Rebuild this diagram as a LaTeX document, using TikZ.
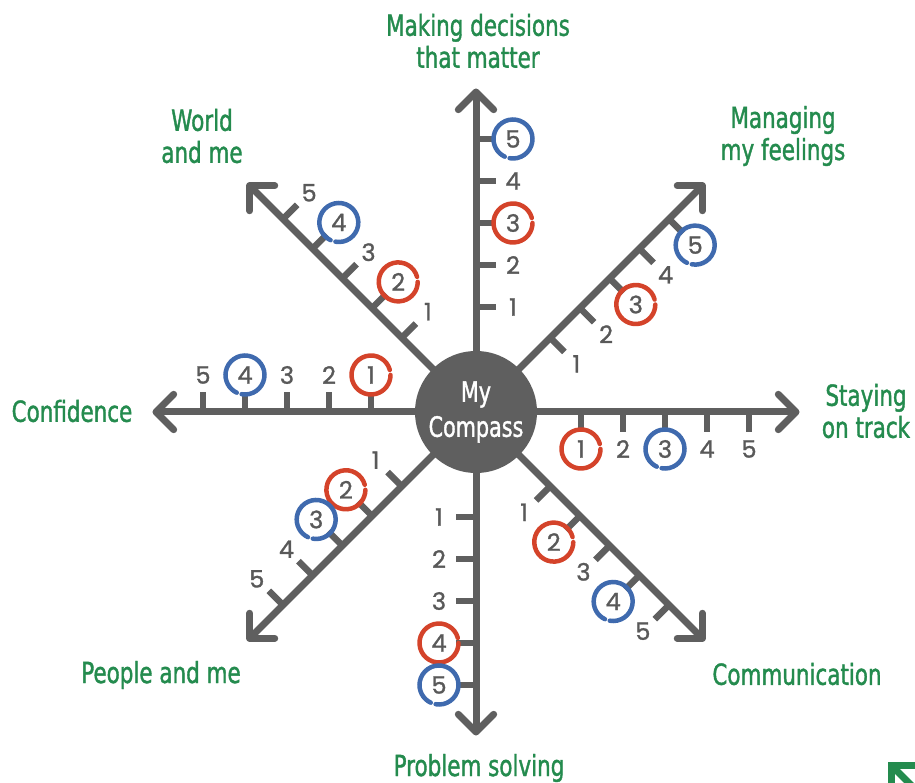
\documentclass[tikz,border=0pt]{standalone}
\usepackage{fontspec}
\usetikzlibrary{calc}
\newfontfamily\labfont[FakeStretch=0.74,FakeBold=1.3]{DejaVu Sans}
\newfontfamily\numfont[FakeBold=1.2]{Poppins}
\definecolor{axisgray}{HTML}{5F5F5F}
\definecolor{numgray}{HTML}{595959}
\definecolor{ringred}{HTML}{D4432A}
\definecolor{ringblue}{HTML}{3F6AAE}
\definecolor{labgreen}{HTML}{248B4E}
\begin{document}
\begin{tikzpicture}[x=1pt,y=1pt,
  axisline/.style={draw=axisgray,line width=7pt},
  tickmark/.style={draw=axisgray,line width=6.5pt},
  arrowhead/.style={draw=axisgray,line width=7pt,line cap=round,line join=round},
  num/.style={text=numgray,font=\numfont\fontsize{24}{24}\selectfont,inner sep=0pt},
  ring/.style={line width=4.5pt,line cap=round},
  lab/.style={text=labgreen,font=\labfont\fontsize{29}{32}\selectfont,align=center,inner sep=0pt},
  hub/.style={circle,fill=axisgray,minimum size=122pt,inner sep=0pt,text=white,
              font=\labfont\fontsize{28}{35}\selectfont,align=center}]
\useasboundingbox (-476,-371) rectangle (439,412);
\clip (-476,-371) rectangle (439,412);

% eight scales: direction / red mark / blue mark
\foreach \ang/\r/\b [count=\i] in {90/3/5, 45/3/5, 0/1/3, -45/2/4, -90/4/5, -135/2/3, 180/1/4, 135/2/4} {
  \coordinate (root\i) at (\ang:0);
  \coordinate (tip\i) at (\ang:320);
  \draw[axisline] (root\i) -- (tip\i);
  \draw[arrowhead] ($(tip\i)+(\ang+135:25)$) -- (tip\i) -- ($(tip\i)+(\ang-135:25)$);
  \foreach \k in {1,...,5} {
    \pgfmathsetmacro\dist{105+42*(\k-1)}
    \coordinate (t\i-\k) at (\ang:\dist);
    \draw[tickmark] (t\i-\k) -- ++(\ang-90:20);
    \node[num] (n\i-\k) at ($(t\i-\k)+(\ang-90:37)$) {\k};
  }
  \draw[ring,ringred] (n\i-\r.center) ++(15:19.5) arc[start angle=15,delta angle=345,radius=19.5];
  \draw[ring,ringblue] (n\i-\b.center) ++(-100:19.5) arc[start angle=-100,delta angle=345,radius=19.5];
}

\node[hub] (hub) at (0,0) {My\\Compass};

% scale titles
\node[lab] (lab1) at (2,371) {Making decisions\\that matter};
\node[lab] (lab2) at (307,276) {Managing\\my feelings};
\node[lab] (lab3) at (390,1) {Staying\\on track};
\node[lab] (lab4) at (321,-262) {Communication};
\node[lab] (lab5) at (3,-356) {Problem solving};
\node[lab] (lab6) at (-315,-263) {People and me};
\node[lab] (lab7) at (-404,1) {Confidence};
\node[lab] (lab8) at (-274,276) {World\\and me};

% corner arrow
\draw[labgreen,line width=7pt] (445,-353.5) -- (415.5,-353.5) -- (415.5,-380);
\draw[labgreen,line width=7pt] (415.5,-353.5) -- (445,-383);
\end{tikzpicture}
\end{document}
